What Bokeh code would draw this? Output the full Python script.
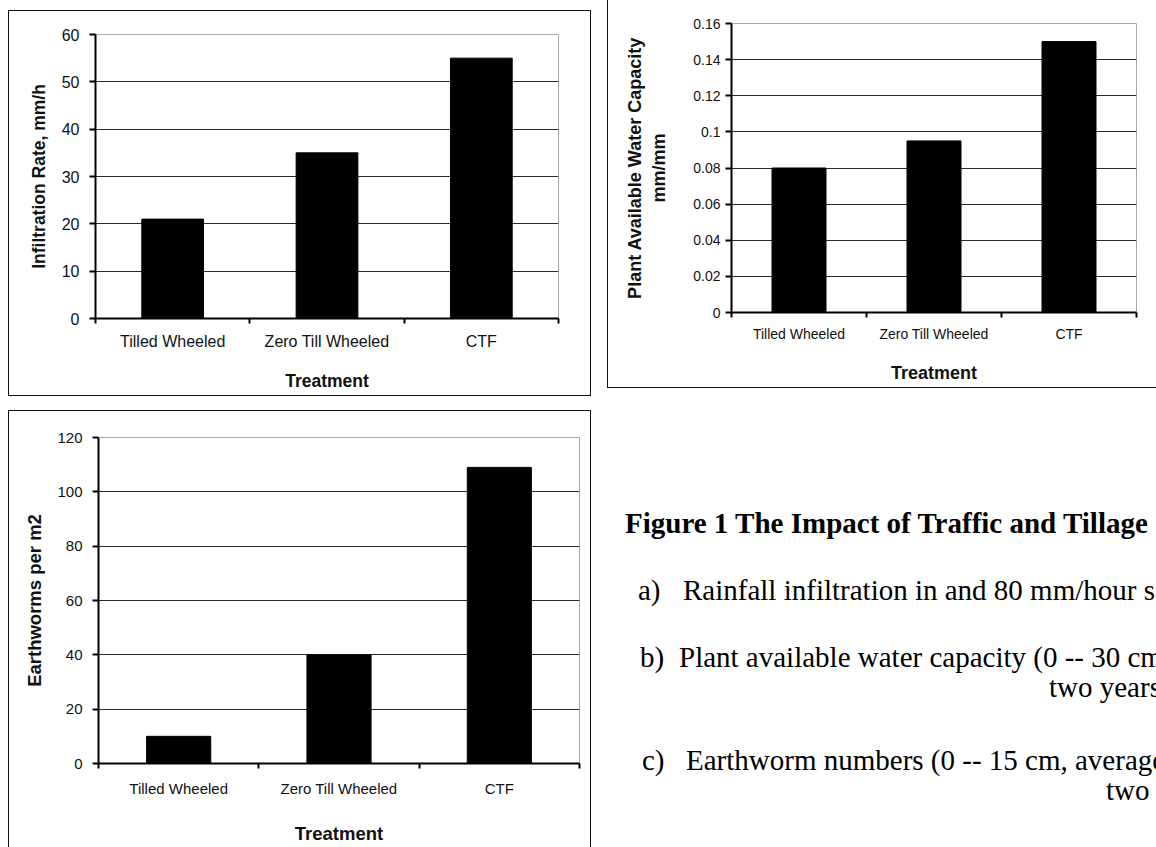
from bokeh.plotting import figure
from bokeh.models import Range1d, FixedTicker, LinearAxis, Grid, Spacer, Div
from bokeh.layouts import row, column
from bokeh.embed import file_html
from bokeh.resources import INLINE

# ---------------- data ----------------
treatments = ["Tilled Wheeled", "Zero Till Wheeled", "CTF"]
infiltration = [21, 35, 55]
pawc = [0.08, 0.095, 0.15]
earthworms = [10, 40, 109]

infil_ticks = [0, 10, 20, 30, 40, 50, 60]
pawc_ticks = [0, 0.02, 0.04, 0.06, 0.08, 0.1, 0.12, 0.14, 0.16]
worm_ticks = [0, 20, 40, 60, 80, 100, 120]

x_title = "Treatment"
infil_title = "Infiltration Rate, mm/h"
pawc_title = "Plant Available Water Capacity\nmm/mm"
worm_title = "Earthworms per m2"

caption_title = "Figure 1 The Impact of Traffic and Tillage"
caption_items = [
    ("a)", "Rainfall infiltration in and 80 mm/hour s"),
    ("b)", "Plant available water capacity (0 -- 30 cm"),
    ("c)", "Earthworm numbers (0 -- 15 cm, average"),
]
caption_wraps = ["two years", "two years"]

SANS = "Liberation Sans"
SERIF = "Liberation Serif"


def make_panel(values, ticks, ytitle, w, h, mb, shadow, tick_fs, title_fs,
               x_lab_so, x_title_so, y_lab_so, y_title_so):
    n = len(treatments)
    xs = [i + 0.5 for i in range(n)]
    p = figure(width=w, height=h, output_backend="svg", toolbar_location=None,
               x_range=Range1d(0, n), y_range=Range1d(ticks[0], ticks[-1]),
               x_axis_type=None, y_axis_type=None,
               min_border_left=mb[0], min_border_right=mb[1],
               min_border_top=mb[2], min_border_bottom=mb[3])
    p.border_fill_color = None
    p.background_fill_color = "white"
    p.outline_line_color = "#a8a8a8"
    p.outline_line_width = 1
    p.styles = {"box-shadow": shadow}

    p.add_layout(Grid(dimension=1, ticker=FixedTicker(ticks=ticks[1:-1]),
                      grid_line_color="#2a2a2a", grid_line_width=1))

    p.vbar(x=xs, top=values, bottom=0, width=0.4, fill_color="black",
           line_color="black")

    xaxis = LinearAxis(
        ticker=FixedTicker(ticks=xs, minor_ticks=list(range(n + 1))),
        major_label_overrides={x: t for x, t in zip(xs, treatments)},
        axis_line_color="black", axis_line_width=2,
        major_tick_in=0, major_tick_out=0, major_tick_line_color=None,
        minor_tick_in=0, minor_tick_out=5, minor_tick_line_color="black",
        minor_tick_line_width=2,
        major_label_text_font=SANS, major_label_text_font_size=tick_fs,
        major_label_text_color="#111111", major_label_standoff=x_lab_so,
        axis_label=x_title, axis_label_text_font=SANS,
        axis_label_text_font_style="bold", axis_label_text_font_size=title_fs,
        axis_label_text_color="#111111", axis_label_standoff=x_title_so,
    )
    p.add_layout(xaxis, "below")

    yaxis = LinearAxis(
        ticker=FixedTicker(ticks=ticks),
        major_label_overrides={t: f"{t:g}" for t in ticks},
        axis_line_color="black", axis_line_width=2,
        major_tick_in=0, major_tick_out=6, major_tick_line_color="black",
        major_tick_line_width=2,
        minor_tick_line_color=None,
        major_label_text_font=SANS, major_label_text_font_size=tick_fs,
        major_label_text_color="#111111", major_label_standoff=y_lab_so,
        axis_label=ytitle, axis_label_text_font=SANS,
        axis_label_text_font_style="bold", axis_label_text_font_size=title_fs,
        axis_label_text_color="#111111", axis_label_standoff=y_title_so,
    )
    p.add_layout(yaxis, "left")
    return p


p1 = make_panel(infiltration, infil_ticks, infil_title, 583, 386,
                (87, 33, 24, 78), "inset 0 0 0 1px #111",
                "16px", "17.5px", 9, 18, 10, 10)
p3 = make_panel(earthworms, worm_ticks, worm_title, 583, 437,
                (90, 12, 27, 84), "inset 1px 1px 0 0 #111, inset -1px 0 0 0 #111",
                "15px", "18.5px", 11, 23, 10, 9)
p2 = make_panel(pawc, pawc_ticks, pawc_title, 549, 388,
                (124, 20, 23, 76), "inset 1px -1px 0 0 #111",
                "14px", "18px", 8, 18, 5, 21)

# caption (text block below the second chart)
def span(txt, left, baseline, bold=False):
    top = baseline - 24
    weight = "bold" if bold else "normal"
    return (f'<span style="position:absolute;left:{left}px;top:{top}px;'
            f'white-space:nowrap;font-weight:{weight};">{txt}</span>')

parts = [span(caption_title, 13, 140, bold=True)]
item_base = [207, 274, 377]
letter_x = [26, 28, 30]
body_x = [71, 67, 74]
for (letter, body), b, lx, bx in zip(caption_items, item_base, letter_x, body_x):
    parts.append(span(letter, lx, b))
    parts.append(span(body, bx, b))
for txt, wx, wb in zip(caption_wraps, [437, 494], [304, 407]):
    parts.append(span(txt, wx, wb))

html = ('<div style="position:relative;width:549px;height:459px;overflow:hidden;'
        f'font-family:\'{SERIF}\';font-size:29px;line-height:29px;color:#000;">'
        + "".join(parts) + "</div>")
caption = Div(text=html, width=549, height=459,
              styles={"overflow": "hidden"})

layout = row(
    Spacer(width=8, height=10),
    column(Spacer(width=583, height=10), row(p1), Spacer(width=583, height=14),
           row(p3), spacing=0),
    Spacer(width=16, height=10),
    column(row(p2), caption, spacing=0),
    spacing=0,
)

open("out.html", "w").write(file_html(layout, INLINE))
